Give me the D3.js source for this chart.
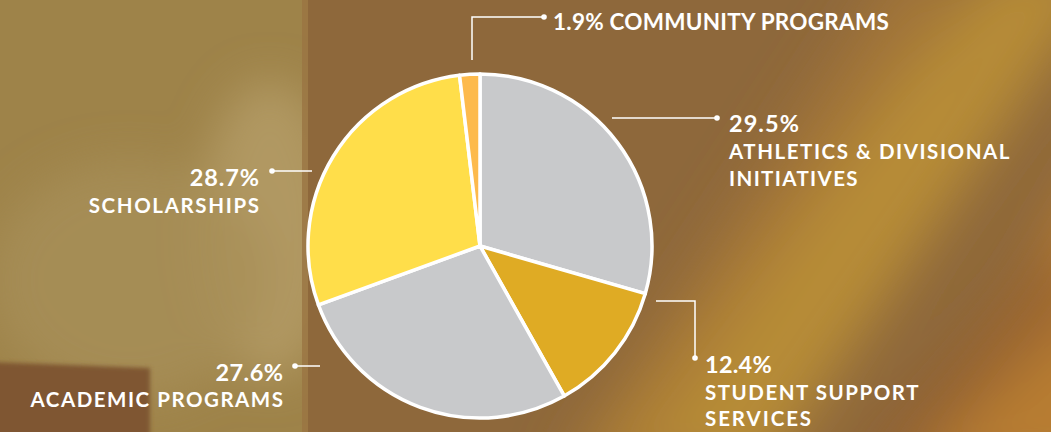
<!DOCTYPE html>
<html>
<head>
<meta charset="utf-8">
<script src="https://cdn.jsdelivr.net/npm/d3@7"></script>
<style>
  html, body { margin: 0; padding: 0; background: #8d673a; }
  svg { display: block; }
  text { font-family: Lato, "Open Sans", sans-serif; font-weight: 700; fill: #ffffff; }
</style>
</head>
<body>
<svg id="chart" width="1051" height="432"></svg>
<script>
// ---- data ----
const categories = ["ATHLETICS & DIVISIONAL INITIATIVES", "STUDENT SUPPORT SERVICES", "ACADEMIC PROGRAMS", "SCHOLARSHIPS", "COMMUNITY PROGRAMS"];
const values = [29.5, 12.4, 27.6, 28.7, 1.9];
const labelLines = [
  ["ATHLETICS & DIVISIONAL", "INITIATIVES"],
  ["STUDENT SUPPORT", "SERVICES"],
  ["ACADEMIC PROGRAMS"],
  ["SCHOLARSHIPS"],
  []
];
const colors = ["#c8c9cb", "#dfab24", "#c8c9cb", "#ffde4a", "#fdba4c"];

// ---- layout ----
const W = 1051, H = 432;
const cx = 480, cy = 246, R = 172;
const svg = d3.select("#chart");

// background approximation of the photo
const defs = svg.append("defs");
defs.append("filter").attr("id", "blur").attr("x", "-50%").attr("y", "-50%").attr("width", "200%").attr("height", "200%")
  .append("feGaussianBlur").attr("stdDeviation", 28);
defs.append("filter").attr("id", "blurM").attr("x", "-50%").attr("y", "-50%").attr("width", "200%").attr("height", "200%")
  .append("feGaussianBlur").attr("stdDeviation", 22);
defs.append("filter").attr("id", "blurS").attr("x", "-50%").attr("y", "-50%").attr("width", "200%").attr("height", "200%")
  .append("feGaussianBlur").attr("stdDeviation", 2);
defs.append("clipPath").attr("id", "wallClip").append("rect").attr("x", 0).attr("y", 0).attr("width", 308).attr("height", H);

const bg = svg.append("g");
bg.append("rect").attr("width", W).attr("height", H).attr("fill", "#8e683b");
const bgBlur = bg.append("g").attr("filter", "url(#blur)");
bgBlur.append("path").attr("d", "M1000,-40 L1120,-40 L760,480 L560,480 Z").attr("fill", "#b88d35").attr("opacity", 0.95);
bgBlur.append("path").attr("d", "M900,-40 L980,-40 L640,480 L560,480 Z").attr("fill", "#a97a36").attr("opacity", 0.7);
bgBlur.append("path").attr("d", "M1120,120 L1120,480 L900,480 Z").attr("fill", "#bd7f32").attr("opacity", 0.9);
bgBlur.append("path").attr("d", "M1060,240 L1100,300 L900,480 L840,480 Z").attr("fill", "#8f5c2f").attr("opacity", 0.7);
// left wall
const wall = bg.append("g").attr("clip-path", "url(#wallClip)");
wall.append("rect").attr("x", 0).attr("y", 0).attr("width", 308).attr("height", H).attr("fill", "#9e8349");
const wallSoft = wall.append("g").attr("filter", "url(#blurM)");
wallSoft.append("ellipse").attr("cx", 270).attr("cy", 230).attr("rx", 70).attr("ry", 150).attr("fill", "#b49c66").attr("opacity", 0.85);
wallSoft.append("ellipse").attr("cx", 130).attr("cy", 280).attr("rx", 140).attr("ry", 120).attr("fill", "#a88f57").attr("opacity", 0.8);
wall.append("path").attr("filter", "url(#blurS)")
  .attr("d", "M-10,362 L150,368 L150,450 L-10,450 Z").attr("fill", "#7f5732");
wall.append("rect").attr("x", 302).attr("y", 0).attr("width", 6).attr("height", H).attr("fill", "#9a7442").attr("opacity", 0.8);

// ---- pie ----
const pie = d3.pie().sort(null).value(d => d).startAngle(0).endAngle(2 * Math.PI);
const arcs = pie(values);
const arc = d3.arc().innerRadius(0).outerRadius(R);
const g = svg.append("g").attr("transform", `translate(${cx},${cy})`);
g.selectAll("path").data(arcs).enter().append("path")
  .attr("d", arc)
  .attr("fill", (d, i) => colors[i])
  .attr("stroke", "#ffffff")
  .attr("stroke-width", 3.5)
  .attr("stroke-linejoin", "round");

// ---- labels with leader lines ----
const fmt = v => d3.format(".1f")(v) + "%";
// pts: leader polyline (last point gets a dot); widths: target text widths (percent, line1, line2)
const layout = [
  { pts: [[612, 118], [717, 118]], tx: 729, ty: 132, anchor: "start", lh: 27, widths: [71, 282, 130] },
  { pts: [[656, 301], [695, 301], [695, 358]], tx: 705, ty: 373, anchor: "start", lh: 26.5, widths: [67, 215, 108] },
  { pts: [[320, 366], [295, 366]], tx: 283, ty: 381, anchor: "end", lh: 26, widths: [68, 254] },
  { pts: [[312, 171], [272, 171]], tx: 259, ty: 186, anchor: "end", lh: 27, widths: [70, 172] },
  { pts: [[472, 60], [472, 17], [544, 17]], tx: 553, ty: 30, anchor: "start", lh: 0, inline: true, widths: [336] }
];

function fit(sel, target) {
  const node = sel.node();
  const n = sel.text().length;
  const w = node.getComputedTextLength();
  const ls = Math.max(-0.5, (target - w) / n);
  sel.style("letter-spacing", ls + "px");
  if (sel.attr("text-anchor") === "end") sel.attr("dx", ls); // compensate trailing spacing
}

const lab = svg.append("g");
arcs.forEach((a, i) => {
  const L = layout[i];
  lab.append("path")
    .attr("d", d3.line()(L.pts))
    .attr("fill", "none").attr("stroke", "#ffffff").attr("stroke-width", 1.5);
  const end = L.pts[L.pts.length - 1];
  lab.append("circle").attr("cx", end[0]).attr("cy", end[1]).attr("r", 2.8).attr("fill", "#ffffff");
  if (L.inline) {
    const t = lab.append("text").attr("x", L.tx).attr("y", L.ty).attr("text-anchor", L.anchor)
      .style("font-size", "22.5px").style("letter-spacing", "0px")
      .text(fmt(values[i]) + " " + categories[i]);
    fit(t, L.widths[0]);
  } else {
    const p = lab.append("text").attr("x", L.tx).attr("y", L.ty).attr("text-anchor", L.anchor)
      .style("font-size", "23.5px").style("letter-spacing", "0px")
      .text(fmt(values[i]));
    fit(p, L.widths[0]);
    labelLines[i].forEach((ln, j) => {
      const t = lab.append("text").attr("x", L.tx).attr("y", L.ty + L.lh * (j + 1)).attr("text-anchor", L.anchor)
        .style("font-size", "20.5px").style("letter-spacing", "0px")
        .text(ln);
      fit(t, L.widths[j + 1]);
    });
  }
});
</script>
</body>
</html>
